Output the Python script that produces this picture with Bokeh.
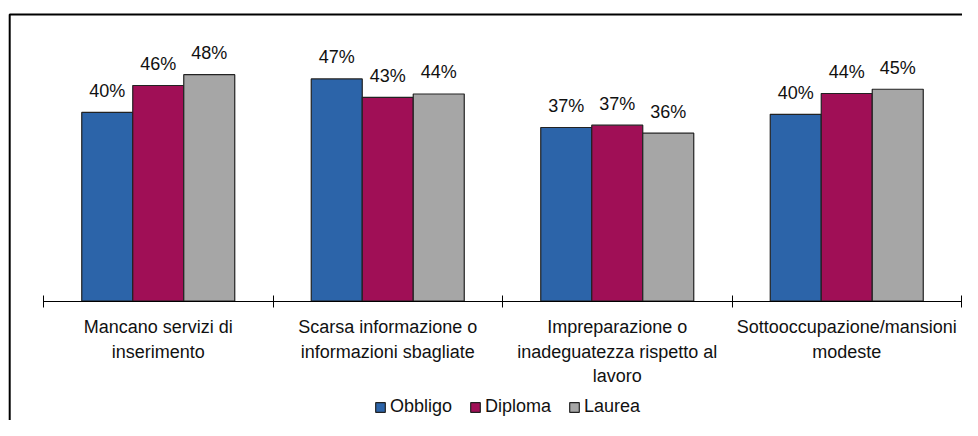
from bokeh.plotting import figure
from bokeh.models import (ColumnDataSource, Range1d, LinearAxis, FixedTicker,
                          LabelSet, Legend, LegendItem)
from bokeh.core.properties import value
from bokeh.transform import dodge
from bokeh.embed import file_html
from bokeh.resources import INLINE

# ---- data ----
categories = [
    "Mancano servizi di\ninserimento",
    "Scarsa informazione o\ninformazioni sbagliate",
    "Impreparazione o\ninadeguatezza rispetto al\nlavoro",
    "Sottooccupazione/mansioni\nmodeste",
]
series = ["Obbligo", "Diploma", "Laurea"]
obbligo = [40.0, 47.1, 36.8, 39.6]
diploma = [45.7, 43.2, 37.3, 44.0]
laurea = [48.0, 43.9, 35.6, 44.9]
colors = ["#2C64A9", "#A00F56", "#A6A6A6"]

FONT = "Liberation Sans"
FS = "18px"
TEXT_COLOR = "#111111"
W, H = 962, 420
PX_X = 229.5           # pixels per category
PX_Y = 4.72            # pixels per percentage point
X0, Y0 = 43, 300.7     # screen position of the axis origin
BAR_W = 51 / PX_X

xs = [i + 0.5 for i in range(len(categories))]
data = dict(x=xs, Obbligo=obbligo, Diploma=diploma, Laurea=laurea)
for s in series:
    data[s + "_lbl"] = [f"{round(v)}%" for v in data[s]]
source = ColumnDataSource(data)

x_start, x_end = -X0 / PX_X, (W - X0) / PX_X
y_start, y_end = -(H - Y0) / PX_Y, Y0 / PX_Y

p = figure(width=W, height=H, output_backend="svg", toolbar_location=None,
           x_range=Range1d(x_start, x_end), y_range=Range1d(y_start, y_end),
           x_axis_type=None, y_axis_type=None,
           min_border=0, min_border_left=0, min_border_right=0,
           min_border_top=0, min_border_bottom=0)
p.outline_line_color = None
p.background_fill_color = "white"
p.border_fill_color = "white"

# outer frame of the chart (left and top edges visible, the rest runs off the picture)
frame_left = (9.2 - X0) / PX_X
frame_top = (Y0 - 14) / PX_Y
p.line(x=[frame_left, frame_left, x_end + 1], y=[y_start - 10, frame_top, frame_top],
       line_color="black", line_width=2)

offsets = [-BAR_W, 0.0, BAR_W]
renderers = []
for s, c, off in zip(series, colors, offsets):
    r = p.vbar(x=dodge("x", off), top=s, width=BAR_W, source=source,
               fill_color=c, line_color="#222222", line_width=1.2)
    renderers.append(r)
    labels = LabelSet(x=dodge("x", off), y=s, text=s + "_lbl", source=source,
                      text_align="center", text_baseline="alphabetic",
                      y_offset=15.5, text_font_size=value(FS), text_font=value(FONT),
                      text_color=value(TEXT_COLOR))
    p.add_layout(labels)

# axis with ticks at category boundaries
tick_axis = LinearAxis(ticker=FixedTicker(ticks=list(range(len(categories) + 1))),
                       fixed_location=0, bounds=(0, len(categories)),
                       axis_line_color="black", axis_line_width=1,
                       major_tick_line_color="black", major_tick_in=6, major_tick_out=6,
                       minor_tick_line_color=None, major_label_text_color=None)
p.add_layout(tick_axis, "below")

# axis carrying the category labels at category centers
label_axis = LinearAxis(ticker=FixedTicker(ticks=xs), fixed_location=0,
                        axis_line_color=None, major_tick_line_color=None,
                        minor_tick_line_color=None, major_tick_in=0, major_tick_out=6,
                        major_label_standoff=10,
                        major_label_overrides={x: c for x, c in zip(xs, categories)},
                        major_label_text_font_size=FS, major_label_text_font=FONT,
                        major_label_text_color=TEXT_COLOR,
                        major_label_text_line_height=1.22)
p.add_layout(label_axis, "below")

legend = Legend(items=[LegendItem(label=s, renderers=[r]) for s, r in zip(series, renderers)],
                orientation="horizontal", location=(374, 3),
                glyph_width=12, glyph_height=12, label_standoff=4, spacing=17,
                padding=0, margin=0, border_line_color=None, background_fill_alpha=0,
                label_text_font_size=FS, label_text_font=FONT,
                label_text_color=TEXT_COLOR)
p.add_layout(legend)

open("out.html", "w").write(file_html(p, INLINE))
